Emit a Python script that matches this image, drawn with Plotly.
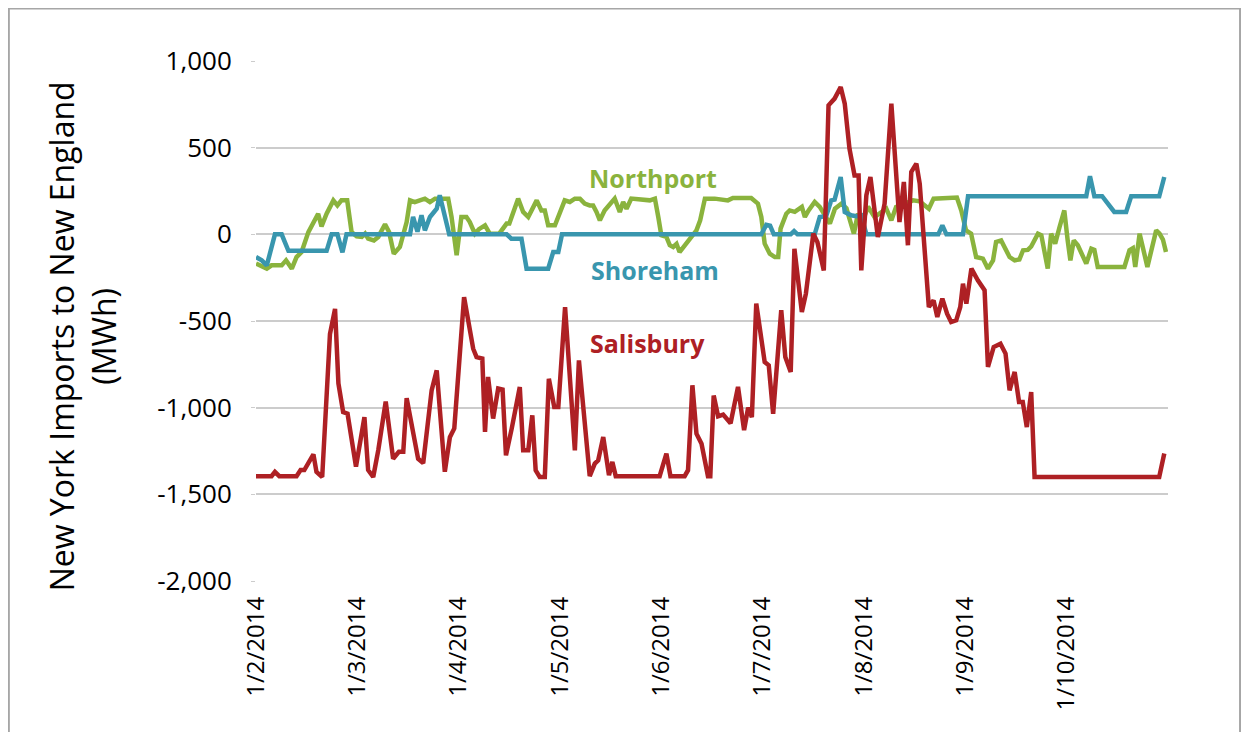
import plotly.graph_objects as go

# x positions are in "category days": 30 units per month tick, 0 = 1/2/2014
tick_labels = ["1/2/2014", "1/3/2014", "1/4/2014", "1/5/2014", "1/6/2014",
               "1/7/2014", "1/8/2014", "1/9/2014", "1/10/2014"]
tick_pos = [0, 30, 60, 90, 120, 150, 180, 210, 240]
x_range = [0, 270]

salisbury_x = [0, 4.6, 5.6, 6.9, 12.0, 13.2, 14.3, 17.0, 17.9, 19.6, 21.9, 23.4, 24.4, 25.8, 27.1,
               29.6, 32.1, 33.2, 34.7, 36.2, 38.4, 40.6, 42.3, 43.6, 44.6, 48.0, 49.5, 52.0, 53.5,
               55.9, 57.4, 58.7, 61.6, 64.3, 65.3, 67.0, 67.8, 68.7, 70.2, 71.7, 73.0, 74.0, 75.7,
               78.1, 79.1, 80.6, 81.8, 82.8, 84.0, 85.5, 86.7, 88.3, 89.5, 91.5, 94.4, 95.6, 98.8,
               100.3, 101.3, 102.8, 104.5, 105.5, 106.5, 119.5, 121.5, 122.7, 126.9, 127.9, 129.2,
               130.4, 131.9, 133.8, 134.5, 135.5, 136.8, 138.3, 140.5, 142.7, 144.5, 145.7, 146.8,
               148.1, 150.6, 151.8, 153.1, 155.5, 156.7, 158.3, 159.4, 161.6, 162.8, 165.0, 166.2,
               168.1, 169.5, 171.3, 173.1, 174.3, 175.7, 177.2, 178.4, 179.2, 180.7, 181.9, 184.1,
               186.1, 188.1, 189.5, 190.5, 191.8, 193.0, 194.0, 195.5, 196.5, 199.2, 200.6, 201.7,
               203.2, 204.6, 205.8, 207.3, 208.5, 209.3, 210.3, 211.8, 213.7, 215.7, 216.7, 218.4,
               220.4, 221.9, 223.1, 224.6, 225.9, 227.0, 228.2, 229.5, 230.5, 267.4, 268.9]
salisbury_y = [-1395, -1395, -1370, -1395, -1395, -1360, -1360, -1270, -1370, -1400, -575, -430,
               -860, -1025, -1035, -1340, -1055, -1360, -1400, -1245, -965, -1295, -1255, -1255,
               -945, -1295, -1320, -900, -785, -1370, -1170, -1120, -362, -660, -708, -717, -1140,
               -823, -1063, -890, -896, -1275, -1121, -881, -1246, -1246, -1044, -1362, -1400,
               -1400, -833, -996, -996, -420, -1246, -727, -1395, -1323, -1304, -1169, -1390,
               -1313, -1395, -1395, -1265, -1395, -1395, -1361, -871, -1150, -1208, -1395, -1395,
               -930, -1050, -1040, -1090, -880, -1130, -1000, -1055, -400, -737, -756, -1035, -438,
               -708, -794, -83, -448, -342, 4, -44, -208, 744, 783, 850, 754, 494, 340, 340, -208,
               225, 331, -15, 177, 754, 331, 71, 302, -63, 360, 408, 292, -419, -381, -477, -371,
               -458, -506, -496, -419, -285, -400, -198, -265, -323, -765, -650, -631, -688, -900,
               -794, -967, -967, -1112, -910, -1400, -1400, -1265]

northport_x = [0, 3.2, 4.6, 7.6, 8.9, 10.6, 12.0, 13.5, 15.5, 17.0, 18.4, 19.4, 20.9, 22.9, 24.1,
               25.3, 27.0, 28.3, 29.8, 31.3, 32.3, 33.2, 34.9, 36.2, 38.2, 39.4, 40.8, 42.6, 44.6,
               45.6, 47.0, 48.5, 50.0, 51.5, 53.0, 56.9, 57.9, 59.4, 60.8, 62.3, 63.3, 64.8, 66.0,
               67.8, 69.2, 72.0, 73.2, 74.2, 75.0, 76.1, 77.6, 79.1, 80.6, 83.1, 84.5, 85.5, 86.5,
               88.5, 90.4, 91.4, 92.9, 94.4, 95.9, 97.3, 98.8, 99.8, 100.8, 101.8, 103.2, 104.7,
               106.2, 107.7, 108.7, 109.7, 111.1, 116.6, 118.1, 119.1, 120.0, 121.5, 122.5, 123.5,
               124.5, 125.4, 128.4, 130.4, 131.5, 132.9, 135.8, 139.7, 141.2, 146.6, 148.6, 149.6,
               150.6, 152.1, 153.6, 154.6, 155.3, 157.0, 158.0, 159.5, 161.6, 162.5, 163.6, 165.4,
               166.9, 169.9, 171.4, 173.3, 174.8, 177.0, 178.2, 179.7, 181.2, 183.1, 186.6, 188.1,
               189.5, 194.5, 196.5, 199.2, 200.6, 207.5, 208.8, 210.2, 211.7, 213.2, 215.2, 216.7,
               218.2, 219.1, 220.6, 223.1, 224.6, 226.0, 227.1, 228.5, 229.5, 231.5, 232.5, 233.4,
               234.4, 235.4, 236.6, 237.9, 239.3, 240.3, 241.1, 242.1, 243.3, 245.8, 247.3, 248.2,
               249.2, 257.1, 258.6, 259.6, 260.3, 261.6, 263.9, 266.5, 267.5, 268.5, 269.4]
northport_y = [-169, -198, -179, -179, -150, -198, -131, -102, 13, 71, 119, 46, 119, 196, 167,
               196, 196, 13, -12, -15, 4, -25, -35, -15, 58, 13, -112, -73, 71, 196, 186, 196, 206,
               186, 206, 206, 100, -121, 100, 100, 71, 4, 30, 52, 4, 4, 33, 62, 62, 129, 206, 129,
               100, 196, 138, 138, 52, 52, 150, 196, 187, 206, 206, 177, 167, 167, 129, 81, 138,
               177, 206, 129, 187, 148, 206, 196, 206, 100, -6, -15, -63, -73, -55, -102, -25, 23,
               81, 206, 206, 196, 210, 210, 177, 100, -54, -112, -131, -131, 33, 119, 138, 130,
               158, 100, 138, 187, 158, 62, 148, 177, 150, 4, 119, 81, 160, 100, 148, 81, 158,
               196, 190, 148, 206, 212, 138, 23, 4, -131, -140, -198, -150, -44, -35, -131, -150,
               -145, -92, -90, -70, 4, -5, -92, -198, 4, -54, 42, 138, -35, -150, -35, -63, -169,
               -83, -90, -188, -188, -92, -80, -188, 4, -188, 23, 4, -30, -102]

shoreham_x = [0, 1.7, 3.2, 4.6, 5.6, 7.6, 9.6, 20.9, 22.4, 24.1, 25.6, 26.8, 45.6, 46.5, 47.8,
              49.0, 50.0, 51.5, 53.5, 54.4, 55.9, 57.2, 74.2, 75.6, 78.6, 80.1, 86.5, 88.0, 89.5,
              90.6, 149.6, 151.1, 152.2, 153.3, 158.3, 159.3, 160.3, 165.4, 166.9, 168.8, 170.3,
              171.3, 173.1, 174.3, 176.2, 177.7, 179.2, 180.7, 202.0, 203.2, 204.4, 209.3, 210.8,
              245.8, 246.9, 248.2, 250.5, 254.1, 257.6, 259.1, 267.4, 268.9]
shoreham_y = [-131, -150, -179, -83, 0, 0, -95, -95, 0, 0, -104, 0, 0, 100, 15, 110, 23, 100, 148,
              225, 110, 0, 0, -25, -25, -198, -198, -102, -102, 0, 0, 55, 50, 0, 0, 19, 0, 0, 100,
              105, 196, 200, 331, 129, 110, 105, 110, 0, 0, 52, 0, 0, 220, 220, 335, 220, 220, 129,
              129, 220, 220, 331]

GREEN = "#8AB33D"
BLUE = "#3996AE"
RED = "#AE2024"
FONT = "Open Sans"

fig = go.Figure()
fig.add_trace(go.Scatter(x=northport_x, y=northport_y, mode="lines", name="Northport",
                         line=dict(color=GREEN, width=4.5)))
fig.add_trace(go.Scatter(x=shoreham_x, y=shoreham_y, mode="lines", name="Shoreham",
                         line=dict(color=BLUE, width=4.5)))
fig.add_trace(go.Scatter(x=salisbury_x, y=salisbury_y, mode="lines", name="Salisbury",
                         line=dict(color=RED, width=4.5)))

fig.update_layout(
    width=1249, height=732,
    margin=dict(l=248, r=89, t=53, b=159),
    paper_bgcolor="white", plot_bgcolor="white",
    showlegend=False,
    font=dict(family=FONT, color="black"),
    xaxis=dict(range=x_range, tickvals=tick_pos, ticktext=tick_labels, tickangle=-90,
               showgrid=False, zeroline=False, showline=False, ticks="",
               ticklabelstandoff=10, tickfont=dict(size=24, family=FONT)),
    xaxis2=dict(range=x_range, overlaying="x", anchor="free", position=2 / 3, side="bottom",
                tickvals=tick_pos + [270], showticklabels=False, ticks="outside", ticklen=6,
                tickwidth=1.5, tickcolor="#8C8C8C", showline=True, linecolor="#8C8C8C",
                linewidth=1.5, showgrid=False, zeroline=False),
    yaxis=dict(range=[-2000, 1000], tickvals=[1000, 500, 0, -500, -1000, -1500, -2000],
               ticktext=["1,000", "500", "0", "-500", "-1,000", "-1,500", "-2,000"],
               showgrid=True, gridcolor="#CCCCCC", gridwidth=1.5, zeroline=False,
               showline=False, ticks="outside", ticklen=4, tickcolor="#CCCCCC",
               ticklabelstandoff=14, tickfont=dict(size=26, family=FONT)),
)

# y-axis title (positioned as in the reference, slightly below the plot centre)
fig.add_annotation(x=-0.19, y=0.47, xref="paper", yref="paper", textangle=-90,
                   text="New York Imports to New England<br>(MWh)", showarrow=False,
                   xanchor="center", yanchor="middle",
                   font=dict(size=32, family=FONT, color="black"))

fig.add_annotation(x=117.5, y=323, xref="x", yref="y", text="<b>Northport</b>", showarrow=False,
                   font=dict(size=25, color=GREEN, family=FONT))
fig.add_annotation(x=118, y=-208, xref="x", yref="y", text="<b>Shoreham</b>", showarrow=False,
                   font=dict(size=25, color=BLUE, family=FONT))
fig.add_annotation(x=116, y=-629, xref="x", yref="y", text="<b>Salisbury</b>", showarrow=False,
                   font=dict(size=25, color=RED, family=FONT))

# outer chart frame
fig.add_shape(type="rect", xref="paper", yref="paper", x0=-0.271, x1=1.079, y0=-0.35, y1=1.101,
              line=dict(color="#A6A6A6", width=2), fillcolor="rgba(0,0,0,0)", layer="below")

fig.write_html("out.html")
